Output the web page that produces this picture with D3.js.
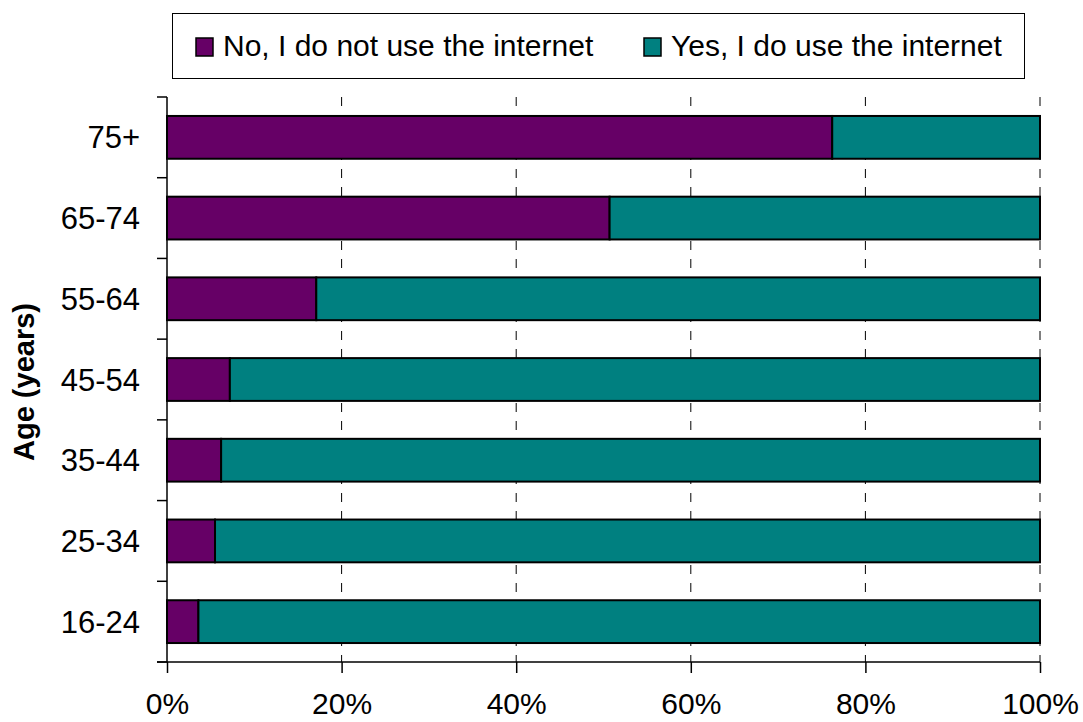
<!DOCTYPE html>
<html>
<head>
<meta charset="utf-8">
<script src="https://cdn.jsdelivr.net/npm/d3@7"></script>
<style>
  body { margin: 0; background: #fff; }
  svg { display: block; font-family: "Liberation Sans", Arial, sans-serif; }
</style>
</head>
<body>
<svg id="chart" width="1083" height="722"></svg>
<script>
// Internet use by age group (percentage of respondents)
const ageGroups = ["75+", "65-74", "55-64", "45-54", "35-44", "25-34", "16-24"];
const notUsing = [76.2, 50.7, 17.1, 7.2, 6.2, 5.5, 3.6];
const using = notUsing.map(v => 100 - v);
const seriesNames = ["No, I do not use the internet", "Yes, I do use the internet"];
const seriesColors = ["#660066", "#008080"];
const xTicks = [0, 20, 40, 60, 80, 100];

const svg = d3.select("#chart");
const margin = { left: 167, top: 97 };
const innerW = 1040 - margin.left;
const innerH = 662 - margin.top;

const x = d3.scaleLinear().domain([0, 100]).range([0, innerW]);
const y = d3.scaleBand().domain(ageGroups).range([0, innerH]).paddingInner(0.47).paddingOuter(0.235);

const g = svg.append("g").attr("transform", `translate(${margin.left},${margin.top})`);

// dashed vertical gridlines
g.selectAll("line.grid").data(xTicks.filter(t => t > 0)).join("line")
  .attr("class", "grid")
  .attr("x1", d => x(d)).attr("x2", d => x(d))
  .attr("y1", 0).attr("y2", innerH)
  .attr("stroke", "#000").attr("stroke-width", 1)
  .attr("stroke-dasharray", "9,9");

// stacked bars
const rows = ageGroups.map((a, i) => ({ age: a, no: notUsing[i], yes: using[i] }));
const stack = d3.stack().keys(["no", "yes"])(rows);
stack.forEach((layer, li) => {
  g.selectAll(null).data(layer).join("rect")
    .attr("x", d => x(d[0]))
    .attr("y", d => y(d.data.age))
    .attr("width", d => x(d[1]) - x(d[0]))
    .attr("height", y.bandwidth())
    .attr("fill", seriesColors[li])
    .attr("stroke", "#000").attr("stroke-width", 2);
});

// x axis
const xAxis = g.append("g").attr("transform", `translate(0,${innerH})`)
  .call(d3.axisBottom(x).tickValues(xTicks).tickFormat(d => d + "%").tickSize(11).tickPadding(14).tickSizeOuter(0));
xAxis.select(".domain").attr("stroke", "#000").attr("stroke-width", 1.5)
  .attr("d", `M-10,0H${innerW}`);
xAxis.selectAll(".tick text")
  .attr("y", 52).attr("dy", null)
  .attr("font-size", 30).attr("fill", "#000")
  .attr("font-family", "Liberation Sans, Arial, sans-serif");
xAxis.selectAll(".tick line").attr("stroke-width", 1.5);

// y axis: ticks at category boundaries
const yAxisG = g.append("g");
yAxisG.append("line").attr("x1", 0).attr("x2", 0).attr("y1", 0).attr("y2", innerH)
  .attr("stroke", "#000").attr("stroke-width", 1.5);
const boundaries = d3.range(ageGroups.length + 1).map(i => i * y.step());
yAxisG.selectAll("line.tick").data(boundaries).join("line")
  .attr("class", "tick")
  .attr("x1", -10).attr("x2", 0).attr("y1", d => d).attr("y2", d => d)
  .attr("stroke", "#000").attr("stroke-width", 1.5);
yAxisG.selectAll("text").data(ageGroups).join("text")
  .attr("x", -27).attr("y", d => y(d) + y.bandwidth() / 2 + 11)
  .attr("text-anchor", "end")
  .attr("font-size", 31).attr("fill", "#000").text(d => d);

// y axis title
svg.append("text")
  .attr("transform", `translate(34,382) rotate(-90)`)
  .attr("text-anchor", "middle")
  .attr("font-size", 29).attr("font-weight", "bold").text("Age (years)");

// legend
const legend = svg.append("g");
legend.append("rect").attr("x", 172.5).attr("y", 13.5).attr("width", 852).attr("height", 65)
  .attr("fill", "#fff").attr("stroke", "#000").attr("stroke-width", 1);
const legendX = [196, 644];
seriesNames.forEach((name, i) => {
  legend.append("rect").attr("x", legendX[i]).attr("y", 38).attr("width", 17).attr("height", 18)
    .attr("fill", seriesColors[i]).attr("stroke", "#000").attr("stroke-width", 1.5);
  legend.append("text").attr("x", legendX[i] + 27).attr("y", 56)
    .attr("font-size", 30).text(name);
});
</script>
</body>
</html>
